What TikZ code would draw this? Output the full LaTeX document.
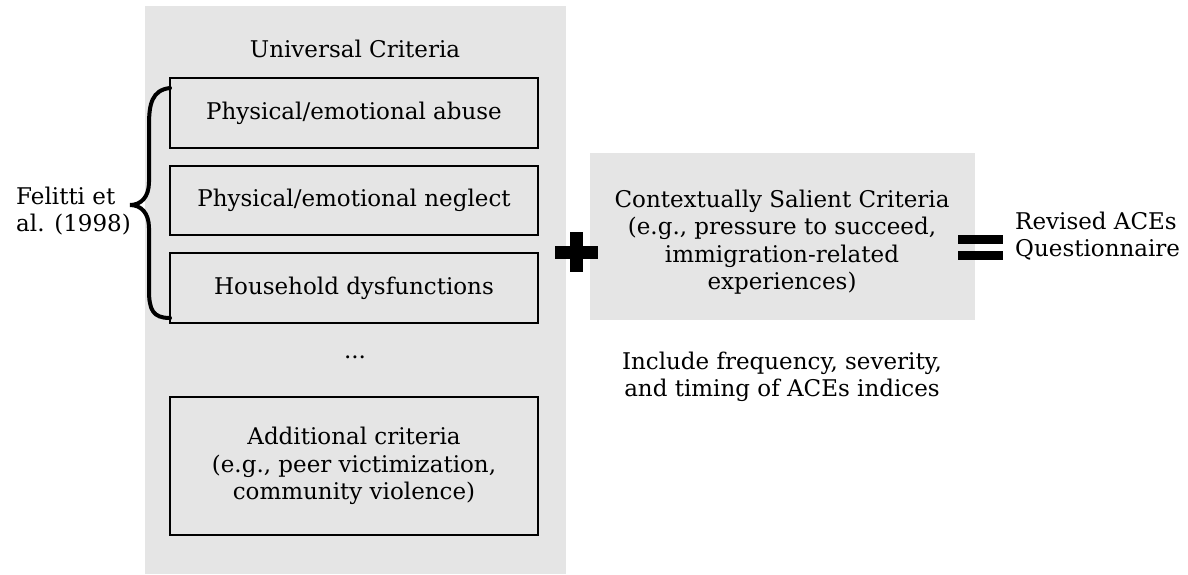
\documentclass[tikz,border=0pt]{standalone}
\usepackage{fontspec}
\setmainfont{DejaVu Serif}
\begin{document}
\begin{tikzpicture}[x=1pt,y=-1pt,
  txt/.style={font=\fontsize{23}{27.5}\selectfont, inner sep=0pt},
  panel/.style={fill=black!10, draw=none},
  critbox/.style={draw=black, line width=1.5pt, fill=black!10, minimum width=368pt, inner sep=0pt, align=center, font=\fontsize{23}{27.5}\selectfont},
  sign/.style={fill=black, draw=none}]
\useasboundingbox (0,0) rectangle (1188,574);
% panels
\fill[panel] (145,6) rectangle (566,574);
\fill[panel] (590,153) rectangle (975,320);
% left panel content
\node[txt] (title) at (355,49) {Universal Criteria};
\node[critbox, minimum height=70pt] (abuse) at (354,113) {Physical/emotional abuse};
\node[critbox, minimum height=69pt] (neglect) at (354,200.5) {Physical/emotional neglect};
\node[critbox, minimum height=70pt] (house) at (354,288) {Household dysfunctions};
\node[txt] (dots) at (355,357) {...};
\node[critbox, minimum height=138pt] (extra) at (354,466) {Additional criteria\\(e.g., peer victimization,\\community violence)};
% brace and citation
\coordinate (btop) at (170,88);
\coordinate (btip) at (130,205);
\coordinate (bbot) at (170,318);
\draw[line width=4pt, line cap=round] (btop) .. controls (152,90) and (149,104) .. (149,125) -- (149,182)
  .. controls (149,197) and (141,205) .. (btip)
  .. controls (141,205) and (149,213) .. (149,228) -- (149,290)
  .. controls (149,310) and (153,318) .. (bbot);
\node[txt, anchor=west, align=left] (cite) at (16,211) {Felitti et\\al. (1998)};
% plus sign
\fill[sign] (555,246) rectangle (598,259);
\fill[sign] (570,232) rectangle (583,272);
% contextual criteria
\node[txt, align=center] (context) at (782,242) {Contextually Salient Criteria\\(e.g., pressure to succeed,\\immigration-related\\experiences)};
\node[txt, align=center] (indices) at (782,377) {Include frequency, severity,\\and timing of ACEs indices};
% equals sign
\fill[sign] (958,235) rectangle (1003,244);
\fill[sign] (958,251) rectangle (1003,260);
\node[txt, anchor=west, align=left] (result) at (1015,236) {Revised ACEs\\Questionnaire};
\end{tikzpicture}
\end{document}
